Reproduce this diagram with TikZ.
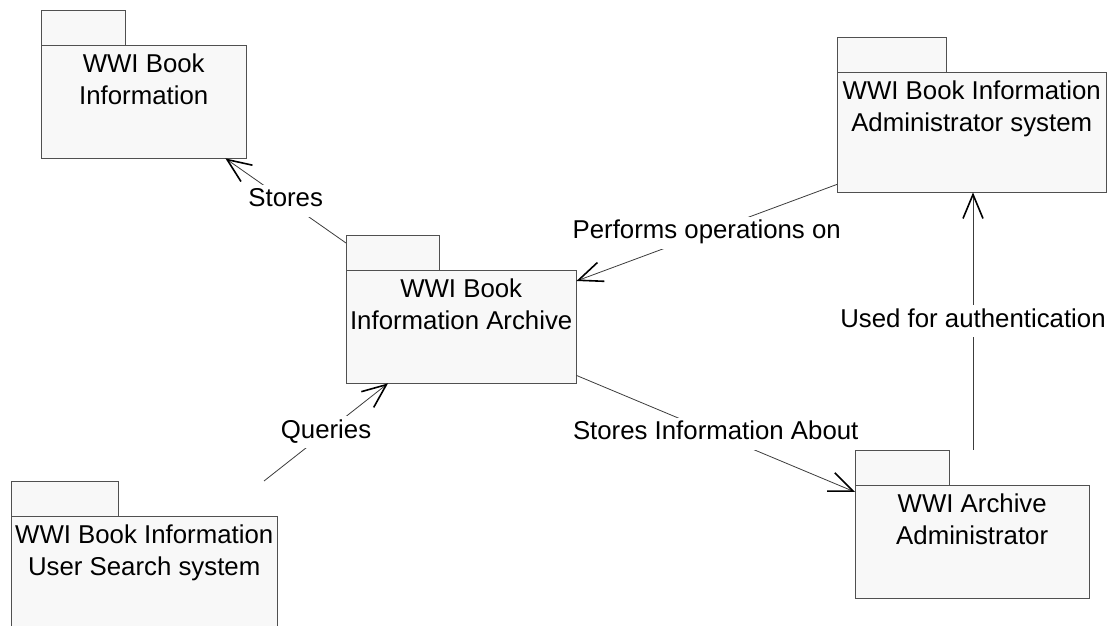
\documentclass[tikz,border=0pt]{standalone}
\usepackage{fontspec}
\setmainfont{Liberation Sans}
\usetikzlibrary{arrows.meta}
\definecolor{pkgfill}{RGB}{248,248,248}
\definecolor{pkgline}{RGB}{80,80,80}
\definecolor{linkgray}{RGB}{60,60,60}
\tikzstyle{package} = [rectangle, draw=pkgline, fill=pkgfill, anchor=north west, inner sep=0pt, align=center, text height=59pt, font=\fontsize{25.8}{32}\selectfont]
\tikzstyle{pkgtab} = [draw=pkgline, fill=pkgfill]
\tikzstyle{link} = [draw=linkgray, line width=0.8pt, -{Straight Barb[length=24pt, width=20pt, line width=1.6pt, color=black]}]
\tikzstyle{linklabel} = [fill=white, inner sep=4pt, text height=18pt, text depth=6pt, font=\fontsize{25.8}{32}\selectfont]

\begin{document}
\begin{tikzpicture}
[x=1pt, y=1pt]
\useasboundingbox (0,0) rectangle (1116,626);
\clip (0,0) rectangle (1116,626);

\node (info) [package, minimum width=205pt, text depth=54pt] at (41,581) {WWI Book\\Information};
\node (archive) [package, minimum width=230pt, text depth=54pt] at (346,356) {WWI Book\\Information Archive};
\node (adminsys) [package, minimum width=269pt, text depth=61pt] at (837,554) {WWI Book Information\\Administrator system};
\node (search) [package, minimum width=266pt, text depth=61pt] at (11,110) {WWI Book Information\\User Search system};
\node (admin) [package, minimum width=234pt, text depth=54pt] at (855,141) {WWI Archive\\Administrator};

\draw [pkgtab] (info.north west) rectangle ++(84,35);
\draw [pkgtab] (archive.north west) rectangle ++(93,35);
\draw [pkgtab] (adminsys.north west) rectangle ++(109,35);
\draw [pkgtab] (search.north west) rectangle ++(107,35);
\draw [pkgtab] (admin.north west) rectangle ++(94,35);

\draw [link] ([yshift=27pt]archive.north west) -- node[linklabel] {Stores} ([xshift=-21pt]info.south east);
\draw [link] ([yshift=8pt]adminsys.south west) -- node[linklabel] {Performs operations on} ([yshift=-11pt]archive.north east);
\draw [link] ([xshift=253pt, yshift=35pt]search.north west) -- node[linklabel] {Queries} ([xshift=42pt]archive.south west);
\draw [link] ([yshift=8pt]archive.south east) -- node[linklabel] {Stores Information About} ([yshift=-7pt]admin.north west);
\draw [link] ([xshift=118pt, yshift=35pt]admin.north west) -- node[linklabel] {Used for authentication} ([xshift=136pt]adminsys.south west);
\end{tikzpicture}
\end{document}
